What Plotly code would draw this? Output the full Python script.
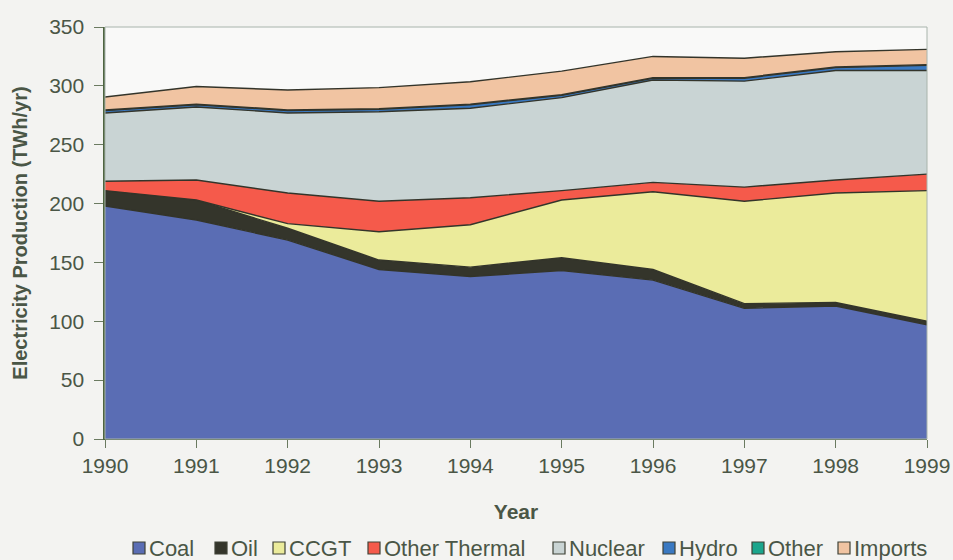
import plotly.graph_objects as go

years = [1990, 1991, 1992, 1993, 1994, 1995, 1996, 1997, 1998, 1999]

# TWh/yr per source
coal = [198, 186, 169, 144, 138, 143, 135, 111, 113, 97]
oil = [13, 17, 10, 8, 8, 11, 9, 4, 3, 3]
ccgt = [0, 0, 4, 24, 36, 49, 66, 87, 93, 111]
other_thermal = [8, 17, 26, 26, 23, 8, 8, 12, 11, 14]
nuclear = [58, 62, 68, 76, 76, 79, 87, 90, 93, 88]
hydro = [2, 2, 2, 2, 3, 2, 1.5, 2.5, 2.5, 4.5]
other = [0.5, 0.5, 0.5, 0.5, 0.5, 0.5, 0.5, 0.5, 0.5, 0.5]
imports = [11, 15, 17, 18, 19, 20, 18, 16.5, 13, 13]

series = [
    ("Coal", coal, "#5a6db4"),
    ("Oil", oil, "#34352b"),
    ("CCGT", ccgt, "#ebeb9b"),
    ("Other Thermal", other_thermal, "#f55a4b"),
    ("Nuclear", nuclear, "#c9d4d4"),
    ("Hydro", hydro, "#3a79c2"),
    ("Other", other, "#1ba58c"),
    ("Imports", imports, "#f1c4a2"),
]

# left edge (px) of each legend swatch, laid out like the spreadsheet legend row
legend_left_px = [133, 215, 273, 368, 553, 663, 752, 838]

W, H = 953, 560
L, R, T, B = 105, 26, 27, 121
plot_w = W - L - R
plot_h = H - T - B

text_color = "#4a5646"
font = "Liberation Sans, Arial, sans-serif"


def px_to_paper_x(px):
    return (px - L) / plot_w


def px_to_paper_y(py):
    return (H - B - py) / plot_h


fig = go.Figure()
for name, values, color in series:
    fig.add_trace(
        go.Scatter(
            x=years,
            y=values,
            name=name,
            mode="lines",
            stackgroup="one",
            fillcolor=color,
            line=dict(color="#33342a", width=1.4),
            showlegend=False,
        )
    )

# border around the plot area
shapes = [
    dict(type="rect", xref="paper", yref="paper", x0=0, y0=0, x1=1, y1=1,
         line=dict(color="#a8b4ac", width=1), layer="above")
]
annotations = []

# legend row: square swatch followed by the label
legend_cy = 548
sw = 12
for (name, _, color), left in zip(series, legend_left_px):
    shapes.append(
        dict(
            type="rect", xref="paper", yref="paper",
            x0=px_to_paper_x(left), x1=px_to_paper_x(left + sw),
            y0=px_to_paper_y(legend_cy + sw / 2), y1=px_to_paper_y(legend_cy - sw / 2),
            fillcolor=color, line=dict(color="#3f4236", width=1.2),
        )
    )
    annotations.append(
        dict(
            text=name, xref="paper", yref="paper",
            x=px_to_paper_x(left + sw + 2), y=px_to_paper_y(legend_cy),
            xanchor="left", yanchor="middle", showarrow=False,
            font=dict(size=22, color=text_color),
        )
    )

fig.update_layout(
    width=W,
    height=H,
    margin=dict(l=L, r=R, t=T, b=B, autoexpand=False),
    paper_bgcolor="#f3f3f1",
    plot_bgcolor="#f9f9f8",
    font=dict(family=font, size=21, color=text_color),
    showlegend=False,
    shapes=shapes,
    annotations=annotations,
)

fig.update_xaxes(
    range=[1990, 1999],
    tickmode="array",
    tickvals=years,
    ticks="outside",
    ticklen=8,
    tickcolor="#6a7a60",
    showgrid=False,
    zeroline=False,
    showline=True,
    linecolor="#4e6440",
    linewidth=1,
    tickfont=dict(size=21, color=text_color),
    title=dict(text="<b>Year</b>", font=dict(size=21, color=text_color), standoff=28),
)

fig.update_yaxes(
    range=[0, 350],
    dtick=50,
    ticks="outside",
    ticklen=9,
    tickcolor="#6a7a60",
    ticksuffix=" ",
    showgrid=False,
    zeroline=False,
    showline=True,
    linecolor="#4e6440",
    linewidth=1.5,
    tickfont=dict(size=21, color=text_color),
    title=dict(
        text="<b>Electricity Production (TWh/yr)</b>",
        font=dict(size=20, color=text_color),
        standoff=16,
    ),
)

fig.write_html(
    "out.html",
    config={"displayModeBar": False},
    post_script="document.body.style.margin='0';document.body.style.padding='0';",
)
